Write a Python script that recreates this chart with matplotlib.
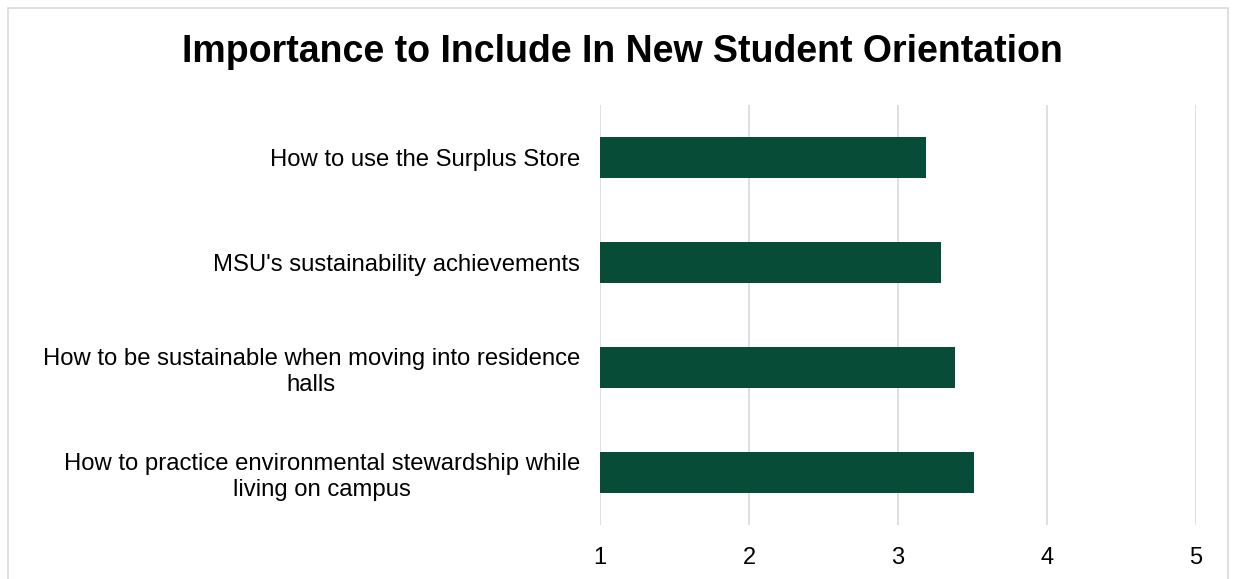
import matplotlib.pyplot as plt
from matplotlib.patches import Rectangle

plt.rcParams['font.family'] = ['Liberation Sans', 'DejaVu Sans']

# Data
categories = [
    "How to use the Surplus Store",
    "MSU's sustainability achievements",
    "How to be sustainable when moving into residence\nhalls",
    "How to practice environmental stewardship while\nliving on campus",
]
scores = [3.19, 3.29, 3.38, 3.51]
x_ticks = [1, 2, 3, 4, 5]

bar_color = "#064c37"
grid_color = "#d9d9d9"

fig = plt.figure(figsize=(12.35, 5.79), dpi=100)
ax = fig.add_axes([600 / 1235, 1 - 525 / 579, 596 / 1235, 420 / 579])

# bars start at 1 (axis minimum)
ypos = list(range(len(categories)))
ax.barh(ypos, [s - 1 for s in scores], left=1, height=0.39, color=bar_color, zorder=3)

ax.set_xlim(1, 5)
ax.set_ylim(len(categories) - 0.5, -0.5)
ax.set_xticks(x_ticks)
ax.set_xticklabels([str(t) for t in x_ticks], fontsize=17)
ax.set_yticks(ypos)
ax.set_yticklabels(categories, fontsize=17.2, multialignment='center', linespacing=1.22)
ax.tick_params(axis='both', length=0)
ax.tick_params(axis='y', pad=14.5)
ax.tick_params(axis='x', pad=15.5)
ax.xaxis.grid(True, color=grid_color, linewidth=1.2, zorder=0)
for s in ax.spines.values():
    s.set_visible(False)

fig.text(622 / 1235, 1 - 52 / 579, "Importance to Include In New Student Orientation",
         ha='center', va='center', fontsize=27, fontweight='bold')

# chart border
fig.patches.append(Rectangle((8 / 1235, -0.01), 1220 / 1235, 1 - 8 / 579 + 0.01,
                             transform=fig.transFigure, fill=False,
                             edgecolor=grid_color, linewidth=1.2))

fig.savefig("out.png", dpi=100)
